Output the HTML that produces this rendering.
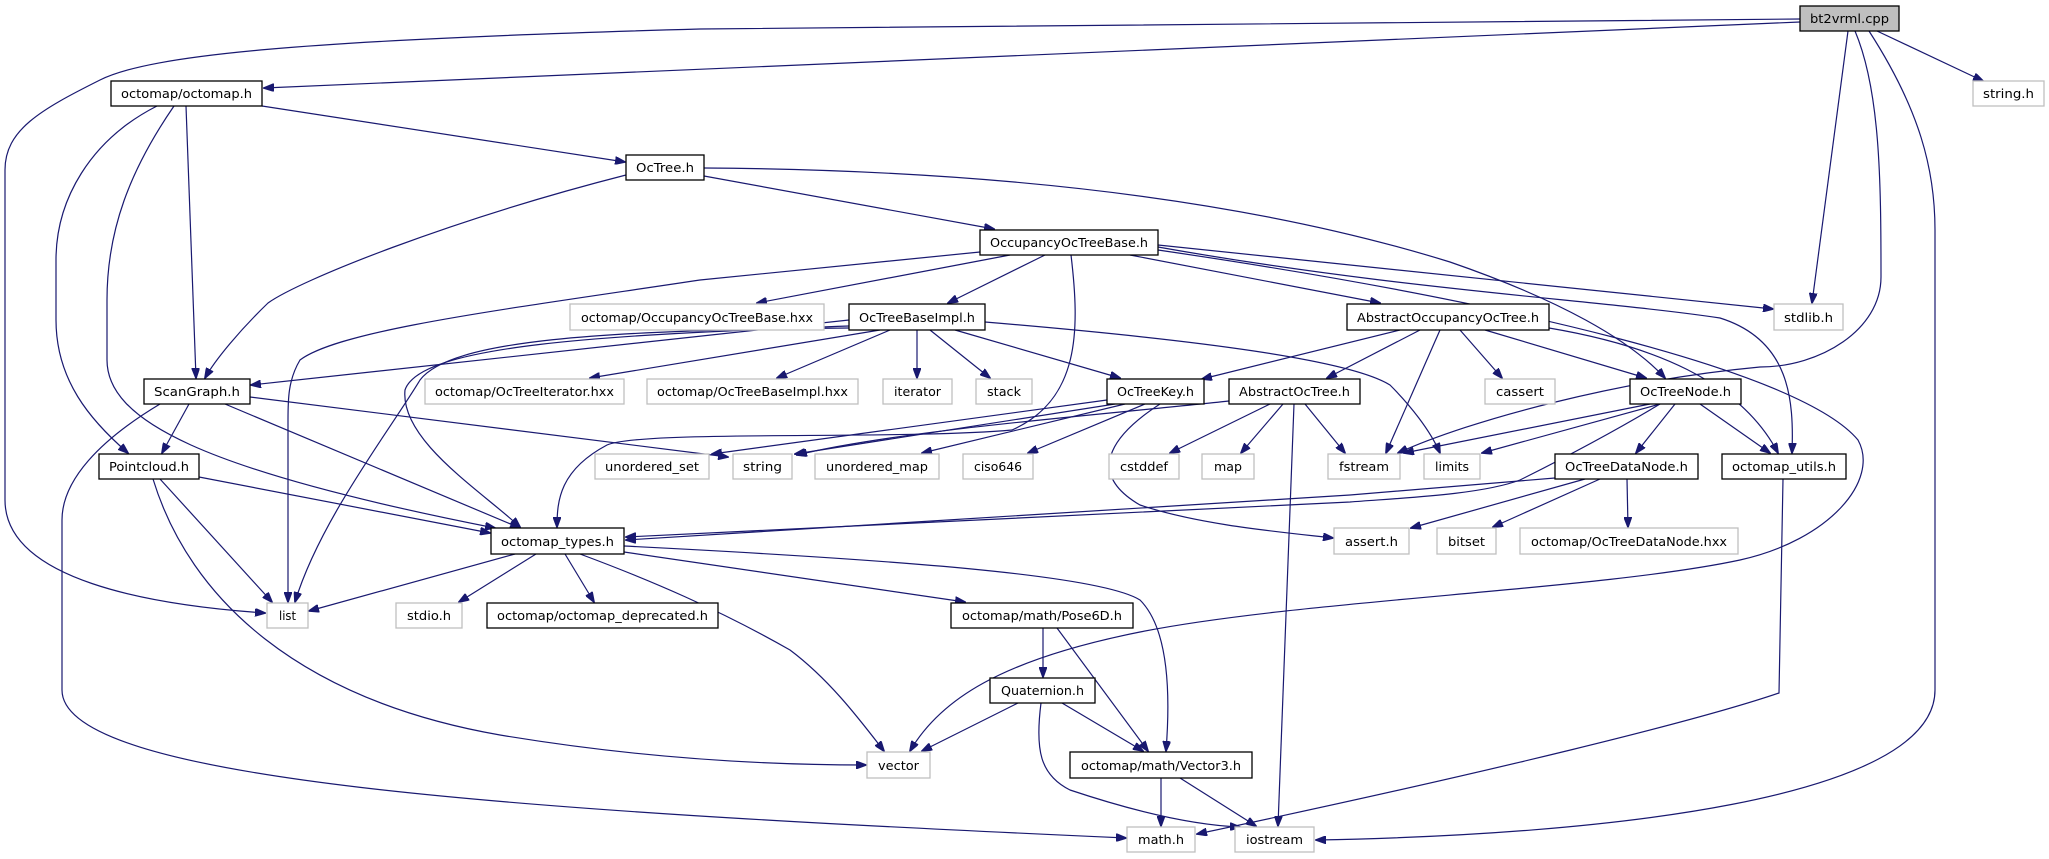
<!DOCTYPE html>
<html><head><meta charset="utf-8"><style>
html,body{margin:0;padding:0;background:#fff;}
svg{display:block;}
text{font-family:"DejaVu Sans","Liberation Sans",sans-serif;font-size:12px;fill:#000;}
.e{fill:none;stroke:#191970;stroke-width:1.2;}
.n{fill:#fff;stroke:#000;stroke-width:1.3;}
.g{fill:#fff;stroke:#bfbfbf;stroke-width:1.3;}
</style></head><body>
<svg width="2049" height="859" viewBox="0 0 2049 859" xmlns="http://www.w3.org/2000/svg">
<defs>
<marker id="a" markerWidth="11" markerHeight="8" refX="10" refY="4" orient="auto" markerUnits="userSpaceOnUse">
<path d="M0,0 L11,4 L0,8 z" fill="#191970" stroke="#191970"/>
</marker>
</defs>
<g class="e" marker-end="url(#a)">
<!-- bt2vrml -->
<path d="M1800,19 L700,29 C300,40 150,55 100,80 C40,110 5,130 5,170 L5,500 C5,580 150,605 265,613"/>
<path d="M1800,22 L264,88"/>
<path d="M1877,31 L1983,81"/>
<path d="M1848,31 L1812,303"/>
<path d="M1855,31 C1880,90 1881,180 1881,277 C1881,330 1820,367 1760,367 C1620,380 1470,420 1398,453"/>
<path d="M1869,31 C1920,110 1935,170 1935,230 L1935,690 C1935,800 1600,835 1316,840"/>
<!-- octomap.h -->
<path d="M262,106 L625,162"/>
<path d="M186,106 L196,378"/>
<path d="M157,106 C90,140 56,200 56,260 L56,320 C56,380 90,420 128,453"/>
<path d="M174,106 C130,170 107,230 107,300 L107,360 C107,420 200,470 495,528"/>
<!-- ScanGraph -->
<path d="M160,404 C100,440 62,480 62,520 L62,690 C62,780 500,810 1126,838"/>
<path d="M189,404 L162,453"/>
<path d="M225,404 L520,528"/>
<path d="M250,397 L728,457"/>
<!-- Pointcloud -->
<path d="M160,479 L272,602"/>
<path d="M199,477 L490,533"/>
<path d="M153,479 C190,600 300,700 500,735 C650,760 780,765 866,765"/>
<!-- OcTree -->
<path d="M626,175 C450,220 300,280 268,303 C240,330 215,360 205,378"/>
<path d="M704,176 L994,229"/>
<path d="M704,168 C1000,170 1250,200 1450,262 C1560,300 1630,340 1665,378"/>
<!-- OccupancyOcTreeBase -->
<path d="M980,252 L700,280 C500,310 340,330 300,360 C288,380 288,400 288,420 L288,602"/>
<path d="M1010,255 L757,303"/>
<path d="M1045,255 L948,303"/>
<path d="M1071,255 C1080,330 1080,400 1012,430 C900,440 640,430 607,445 C560,470 557,500 557,527"/>
<path d="M1130,255 L1380,303"/>
<path d="M1158,245 L1773,309"/>
<path d="M1158,247 C1400,290 1600,300 1720,318 C1790,340 1794,400 1792,453"/>
<path d="M1158,250 C1500,300 1800,370 1858,440 C1880,480 1830,540 1740,560 C1600,590 1300,600 1140,632 C1000,660 940,700 910,751"/>
<!-- OcTreeBaseImpl -->
<path d="M849,320 L251,385"/>
<path d="M880,330 L590,378"/>
<path d="M890,330 L777,378"/>
<path d="M917,330 L917,378"/>
<path d="M930,330 L990,378"/>
<path d="M955,330 L1120,378"/>
<path d="M985,322 C1200,340 1350,360 1390,385 C1410,405 1430,430 1440,453"/>
<path d="M849,328 C600,330 450,340 420,380 C390,430 320,520 295,602"/>
<path d="M849,326 C600,335 420,345 405,390 C400,440 480,490 520,527"/>
<!-- OcTreeKey -->
<path d="M1107,400 L712,454"/>
<path d="M1115,404 L795,454"/>
<path d="M1125,404 L922,453"/>
<path d="M1145,404 L1028,453"/>
<path d="M1160,404 C1120,430 1080,470 1140,505 C1200,525 1280,532 1333,538"/>
<!-- AbstractOcTree -->
<path d="M1229,401 C1100,415 900,430 797,455"/>
<path d="M1270,404 L1170,453"/>
<path d="M1283,404 L1241,453"/>
<path d="M1294,404 L1278,826"/>
<path d="M1305,404 L1345,453"/>
<!-- AbstractOccupancyOcTree -->
<path d="M1400,330 L1202,379"/>
<path d="M1420,330 L1327,378"/>
<path d="M1440,330 L1386,453"/>
<path d="M1460,330 L1502,378"/>
<path d="M1485,330 L1646,378"/>
<path d="M1549,328 C1650,345 1740,380 1778,453"/>
<!-- OcTreeNode -->
<path d="M1650,404 L1404,453"/>
<path d="M1660,404 L1482,453"/>
<path d="M1675,404 L1636,453"/>
<path d="M1700,404 L1770,453"/>
<path d="M1660,404 C1600,440 1540,470 1520,480 C1480,495 1400,498 1350,502 L626,537"/>
<!-- OcTreeDataNode -->
<path d="M1555,478 L1350,495 L626,540"/>
<path d="M1585,479 L1411,528"/>
<path d="M1600,479 L1493,527"/>
<path d="M1627,479 L1628,527"/>
<!-- octomap_utils -->
<path d="M1783,479 L1779,693 C1700,720 1500,770 1197,834"/>
<!-- octomap_types -->
<path d="M515,554 L309,611"/>
<path d="M536,554 L459,602"/>
<path d="M565,554 L594,602"/>
<path d="M624,552 L965,602"/>
<path d="M624,546 C900,560 1100,575 1140,600 C1170,630 1170,700 1166,751"/>
<path d="M580,554 C650,580 720,610 790,650 C830,680 860,720 884,751"/>
<!-- Pose6D -->
<path d="M1043,628 L1043,677"/>
<path d="M1057,628 L1148,751"/>
<!-- Quaternion -->
<path d="M1018,703 L922,751"/>
<path d="M1062,703 L1143,751"/>
<path d="M1041,703 C1035,750 1040,775 1070,790 C1130,810 1190,825 1240,827"/>
<!-- Vector3 -->
<path d="M1161,778 L1161,826"/>
<path d="M1180,778 L1256,826"/>
</g>

<g>
<rect x="1800" y="6" width="99" height="25" fill="#bfbfbf" stroke="#000" stroke-width="1.3"/>
<text x="1849.5" y="23" text-anchor="middle" textLength="79" lengthAdjust="spacingAndGlyphs">bt2vrml.cpp</text>

<rect class="n" x="111" y="81" width="151" height="25"/><text x="186.5" y="98" text-anchor="middle" textLength="131" lengthAdjust="spacingAndGlyphs">octomap/octomap.h</text>
<rect class="g" x="1973" y="81" width="71" height="25"/><text x="2008.5" y="98" text-anchor="middle" textLength="51" lengthAdjust="spacingAndGlyphs">string.h</text>
<rect class="n" x="626" y="155" width="78" height="25"/><text x="665" y="172" text-anchor="middle" textLength="58" lengthAdjust="spacingAndGlyphs">OcTree.h</text>
<rect class="n" x="980" y="230" width="178" height="25"/><text x="1069" y="247" text-anchor="middle" textLength="158" lengthAdjust="spacingAndGlyphs">OccupancyOcTreeBase.h</text>

<rect class="g" x="570" y="304" width="254" height="26"/><text x="697" y="322" text-anchor="middle" textLength="232" lengthAdjust="spacingAndGlyphs">octomap/OccupancyOcTreeBase.hxx</text>
<rect class="n" x="849" y="304" width="136" height="26"/><text x="917" y="322" text-anchor="middle" textLength="116" lengthAdjust="spacingAndGlyphs">OcTreeBaseImpl.h</text>
<rect class="n" x="1347" y="304" width="202" height="26"/><text x="1448" y="322" text-anchor="middle" textLength="182" lengthAdjust="spacingAndGlyphs">AbstractOccupancyOcTree.h</text>
<rect class="g" x="1774" y="304" width="69" height="26"/><text x="1808.5" y="322" text-anchor="middle" textLength="49" lengthAdjust="spacingAndGlyphs">stdlib.h</text>

<rect class="n" x="144" y="379" width="106" height="25"/><text x="197" y="396" text-anchor="middle" textLength="86" lengthAdjust="spacingAndGlyphs">ScanGraph.h</text>
<rect class="g" x="425" y="379" width="199" height="25"/><text x="524.5" y="396" text-anchor="middle" textLength="179" lengthAdjust="spacingAndGlyphs">octomap/OcTreeIterator.hxx</text>
<rect class="g" x="647" y="379" width="211" height="25"/><text x="752.5" y="396" text-anchor="middle" textLength="191" lengthAdjust="spacingAndGlyphs">octomap/OcTreeBaseImpl.hxx</text>
<rect class="g" x="883" y="379" width="69" height="25"/><text x="917.5" y="396" text-anchor="middle" textLength="47" lengthAdjust="spacingAndGlyphs">iterator</text>
<rect class="g" x="976" y="379" width="56" height="25"/><text x="1004" y="396" text-anchor="middle" textLength="34" lengthAdjust="spacingAndGlyphs">stack</text>
<rect class="n" x="1107" y="379" width="97" height="25"/><text x="1155.5" y="396" text-anchor="middle" textLength="77" lengthAdjust="spacingAndGlyphs">OcTreeKey.h</text>
<rect class="n" x="1229" y="379" width="131" height="25"/><text x="1294.5" y="396" text-anchor="middle" textLength="111" lengthAdjust="spacingAndGlyphs">AbstractOcTree.h</text>
<rect class="g" x="1485" y="379" width="70" height="25"/><text x="1520" y="396" text-anchor="middle" textLength="48" lengthAdjust="spacingAndGlyphs">cassert</text>
<rect class="n" x="1630" y="379" width="111" height="25"/><text x="1685.5" y="396" text-anchor="middle" textLength="91" lengthAdjust="spacingAndGlyphs">OcTreeNode.h</text>

<rect class="n" x="99" y="454" width="100" height="25"/><text x="149" y="471" text-anchor="middle" textLength="80" lengthAdjust="spacingAndGlyphs">Pointcloud.h</text>
<rect class="g" x="595" y="454" width="114" height="25"/><text x="652" y="471" text-anchor="middle" textLength="94" lengthAdjust="spacingAndGlyphs">unordered_set</text>
<rect class="g" x="733" y="454" width="59" height="25"/><text x="762.5" y="471" text-anchor="middle" textLength="39" lengthAdjust="spacingAndGlyphs">string</text>
<rect class="g" x="815" y="454" width="124" height="25"/><text x="877" y="471" text-anchor="middle" textLength="102" lengthAdjust="spacingAndGlyphs">unordered_map</text>
<rect class="g" x="963" y="454" width="70" height="25"/><text x="998" y="471" text-anchor="middle" textLength="48" lengthAdjust="spacingAndGlyphs">ciso646</text>
<rect class="g" x="1109" y="454" width="70" height="25"/><text x="1144" y="471" text-anchor="middle" textLength="48" lengthAdjust="spacingAndGlyphs">cstddef</text>
<rect class="g" x="1202" y="454" width="52" height="25"/><text x="1228" y="471" text-anchor="middle" textLength="28" lengthAdjust="spacingAndGlyphs">map</text>
<rect class="g" x="1328" y="454" width="72" height="25"/><text x="1364" y="471" text-anchor="middle" textLength="50" lengthAdjust="spacingAndGlyphs">fstream</text>
<rect class="g" x="1424" y="454" width="56" height="25"/><text x="1452" y="471" text-anchor="middle" textLength="34" lengthAdjust="spacingAndGlyphs">limits</text>
<rect class="n" x="1555" y="454" width="143" height="25"/><text x="1626.5" y="471" text-anchor="middle" textLength="123" lengthAdjust="spacingAndGlyphs">OcTreeDataNode.h</text>
<rect class="n" x="1722" y="454" width="124" height="25"/><text x="1784" y="471" text-anchor="middle" textLength="104" lengthAdjust="spacingAndGlyphs">octomap_utils.h</text>

<rect class="n" x="491" y="528" width="133" height="26"/><text x="557.5" y="546" text-anchor="middle" textLength="113" lengthAdjust="spacingAndGlyphs">octomap_types.h</text>
<rect class="g" x="1334" y="528" width="75" height="26"/><text x="1371.5" y="546" text-anchor="middle" textLength="53" lengthAdjust="spacingAndGlyphs">assert.h</text>
<rect class="g" x="1437" y="528" width="59" height="26"/><text x="1466.5" y="546" text-anchor="middle" textLength="37" lengthAdjust="spacingAndGlyphs">bitset</text>
<rect class="g" x="1520" y="528" width="218" height="26"/><text x="1629" y="546" text-anchor="middle" textLength="196" lengthAdjust="spacingAndGlyphs">octomap/OcTreeDataNode.hxx</text>

<rect class="g" x="267" y="603" width="41" height="25"/><text x="287.5" y="620" text-anchor="middle" textLength="17" lengthAdjust="spacingAndGlyphs">list</text>
<rect class="g" x="396" y="603" width="66" height="25"/><text x="429" y="620" text-anchor="middle" textLength="44" lengthAdjust="spacingAndGlyphs">stdio.h</text>
<rect class="n" x="487" y="603" width="231" height="25"/><text x="602.5" y="620" text-anchor="middle" textLength="211" lengthAdjust="spacingAndGlyphs">octomap/octomap_deprecated.h</text>
<rect class="n" x="951" y="603" width="182" height="25"/><text x="1042" y="620" text-anchor="middle" textLength="160" lengthAdjust="spacingAndGlyphs">octomap/math/Pose6D.h</text>

<rect class="n" x="990" y="678" width="105" height="25"/><text x="1042.5" y="695" text-anchor="middle" textLength="83" lengthAdjust="spacingAndGlyphs">Quaternion.h</text>

<rect class="g" x="867" y="752" width="63" height="26"/><text x="898.5" y="770" text-anchor="middle" textLength="41" lengthAdjust="spacingAndGlyphs">vector</text>
<rect class="n" x="1070" y="752" width="182" height="26"/><text x="1161" y="770" text-anchor="middle" textLength="160" lengthAdjust="spacingAndGlyphs">octomap/math/Vector3.h</text>

<rect class="g" x="1127" y="827" width="68" height="25"/><text x="1161" y="844" text-anchor="middle" textLength="46" lengthAdjust="spacingAndGlyphs">math.h</text>
<rect class="g" x="1235" y="827" width="79" height="25"/><text x="1274.5" y="844" text-anchor="middle" textLength="57" lengthAdjust="spacingAndGlyphs">iostream</text>
</g>
</svg>
</body></html>
